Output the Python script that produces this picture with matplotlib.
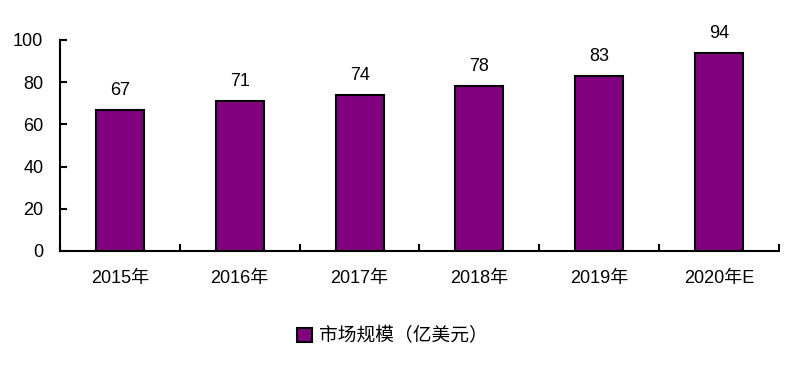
import numpy as np
import matplotlib.pyplot as plt
from matplotlib.ticker import FixedLocator

categories = ["2015年", "2016年", "2017年", "2018年", "2019年", "2020年E"]
values = [67, 71, 74, 78, 83, 94]
series_name = "市场规模（亿美元）"

plt.rcParams['font.family'] = ['Liberation Sans', 'Noto Sans CJK SC']
plt.rcParams['font.size'] = 13

fig = plt.figure(figsize=(8.01, 3.72), dpi=100)
ax = fig.add_axes([0.0749, 0.3253, 0.8976, 0.5672])

x = np.arange(len(categories))
bars = ax.bar(x, values, width=0.4, color="#800080", edgecolor="black",
              linewidth=1.5, label=series_name)

# value labels above the bars
for xi, v in zip(x, values):
    ax.annotate(str(v), (xi, v), xytext=(0, 8), textcoords="offset points",
                ha="center", va="bottom", fontsize=13)

ax.set_xlim(-0.5, len(categories) - 0.5)
ax.set_ylim(0, 100)
ax.set_yticks(np.arange(0, 101, 20))
ax.set_xticks(x)
ax.set_xticklabels(categories)
ax.xaxis.set_minor_locator(FixedLocator(np.arange(-0.5, len(categories), 1.0)))
ax.tick_params(axis="x", which="major", length=0, pad=14)
ax.tick_params(axis="x", which="minor", direction="in", length=5, width=1.5)
ax.tick_params(axis="y", direction="in", length=5, width=1.5, pad=12)

for side in ["top", "right"]:
    ax.spines[side].set_visible(False)
for side in ["left", "bottom"]:
    ax.spines[side].set_linewidth(1.5)

fig.legend(handles=[bars], labels=[series_name], loc="center",
           bbox_to_anchor=(0.49, 0.095), frameon=False, handlelength=0.8,
           handleheight=0.8, handletextpad=0.4, fontsize=13.5)

fig.savefig("out.png", dpi=100)
